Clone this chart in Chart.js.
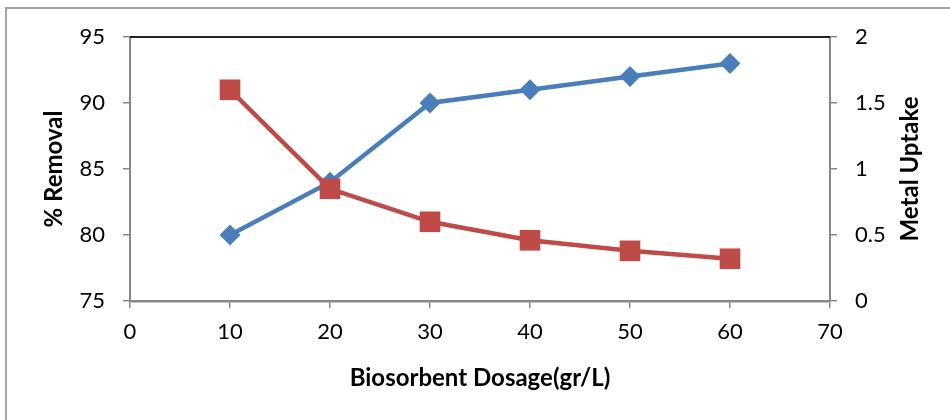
<!DOCTYPE html>
<html>
<head>
<meta charset="utf-8">
<script src="https://cdn.jsdelivr.net/npm/chart.js@4.4.1/dist/chart.umd.min.js"></script>
<style>
  html, body { margin: 0; padding: 0; background: #fff; }
  #wrap { width: 950px; height: 420px; }
</style>
</head>
<body>
<div id="wrap"><canvas id="grafico" width="950" height="420"></canvas></div>
<script>
// datos
var dosis = [10, 20, 30, 40, 50, 60];
var remocion = [80, 84, 90, 91, 92, 93];
var captacion = [1.6, 0.85, 0.6, 0.46, 0.38, 0.32];

var ejeX = { min: 0, max: 70, paso: 10 };
var ejeRemocion = { min: 75, max: 95, paso: 5 };
var ejeCaptacion = { min: 0, max: 2, paso: 0.5 };

var tituloX = 'Biosorbent Dosage(gr/L)';
var tituloIzq = '% Removal';
var tituloDer = 'Metal Uptake';

var fuente = 'Lato, "Open Sans", sans-serif';
var gris = '#878787';

function aPuntos(xs, ys) {
  return xs.map(function (x, i) { return { x: x, y: ys[i] }; });
}

// marco exterior, borde superior del area y titulo derecho
var extras = {
  id: 'extras',
  beforeDraw: function (chart) {
    var ctx = chart.ctx;
    ctx.save();
    ctx.strokeStyle = '#a3a3a3';
    ctx.lineWidth = 2;
    ctx.beginPath();
    ctx.moveTo(6, 420);
    ctx.lineTo(6, 8);
    ctx.lineTo(950, 8);
    ctx.stroke();
    ctx.restore();
  },
  afterDraw: function (chart) {
    var ctx = chart.ctx;
    var a = chart.chartArea;
    ctx.save();
    ctx.strokeStyle = '#222';
    ctx.lineWidth = 2;
    ctx.beginPath();
    ctx.moveTo(a.left, a.top);
    ctx.lineTo(a.right, a.top);
    ctx.stroke();

    ctx.translate(910, (a.top + a.bottom) / 2);
    ctx.rotate(-Math.PI / 2);
    ctx.fillStyle = '#000';
    ctx.font = 'bold 24px ' + fuente;
    ctx.textAlign = 'center';
    ctx.textBaseline = 'middle';
    ctx.fillText(tituloDer, 0, 0);
    ctx.restore();
  }
};

function rejilla() {
  return { display: true, drawOnChartArea: false, drawTicks: true, tickLength: 7, color: gris, lineWidth: 1.5 };
}

new Chart(document.getElementById('grafico').getContext('2d'), {
  type: 'scatter',
  data: {
    datasets: [
      {
        label: tituloIzq,
        data: aPuntos(dosis, remocion),
        yAxisID: 'yIzq',
        showLine: true,
        borderColor: '#4a7ebb',
        backgroundColor: '#4a7ebb',
        borderWidth: 4.5,
        pointStyle: 'rectRot',
        pointRadius: 10.5,
        pointBorderWidth: 0,
        order: 2
      },
      {
        label: tituloDer,
        data: aPuntos(dosis, captacion),
        yAxisID: 'yDer',
        showLine: true,
        borderColor: '#be4b48',
        backgroundColor: '#be4b48',
        borderWidth: 4.5,
        pointStyle: 'rect',
        pointRadius: 14.6,
        pointBorderWidth: 0,
        order: 1
      }
    ]
  },
  options: {
    responsive: false,
    animation: false,
    layout: { padding: { top: 37, left: 0, right: 0, bottom: 0 } },
    plugins: { legend: { display: false }, tooltip: { enabled: false } },
    scales: {
      x: {
        type: 'linear',
        min: ejeX.min,
        max: ejeX.max,
        grid: rejilla(),
        border: { color: gris, width: 2.5 },
        ticks: { stepSize: ejeX.paso, color: '#000', padding: 11, font: { family: fuente, size: 22 } },
        title: { display: true, text: tituloX, color: '#000', padding: { top: 0, bottom: 27 }, font: { family: fuente, size: 24, weight: 'bold' } },
        afterFit: function (s) { s.height = 119; }
      },
      yIzq: {
        position: 'left',
        min: ejeRemocion.min,
        max: ejeRemocion.max,
        grid: rejilla(),
        border: { color: gris, width: 2 },
        ticks: { stepSize: ejeRemocion.paso, color: '#000', padding: 18, font: { family: fuente, size: 22 } },
        title: { display: true, text: tituloIzq, color: '#000', padding: { top: 40, bottom: 0 }, font: { family: fuente, size: 24, weight: 'bold' } },
        afterFit: function (s) { s.width = 130; }
      },
      yDer: {
        position: 'right',
        min: ejeCaptacion.min,
        max: ejeCaptacion.max,
        grid: rejilla(),
        border: { color: gris, width: 2 },
        ticks: {
          stepSize: ejeCaptacion.paso, color: '#000', padding: 18, font: { family: fuente, size: 22 },
          callback: function (v) { return String(v); }
        },
        afterFit: function (s) { s.width = 120; }
      }
    }
  },
  plugins: [extras]
});
</script>
</body>
</html>
